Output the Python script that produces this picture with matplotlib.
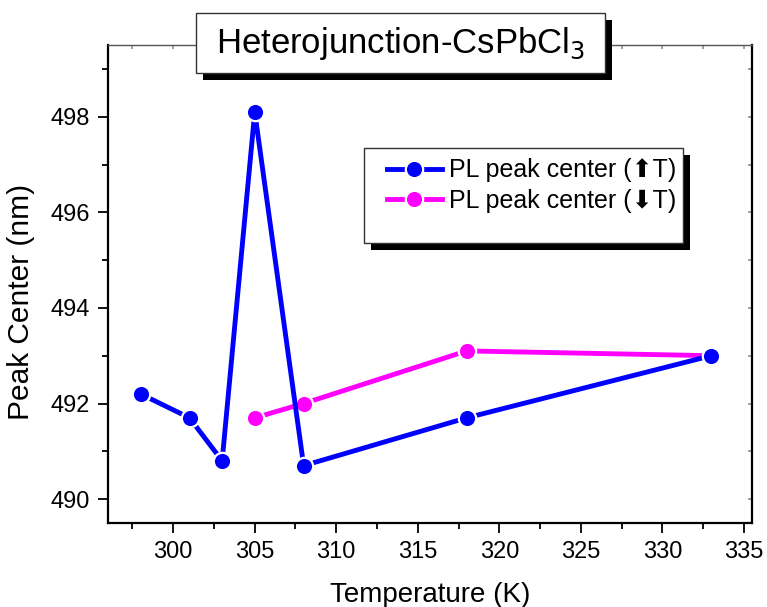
import matplotlib
matplotlib.use("Agg")
import matplotlib.pyplot as plt
from matplotlib.patches import Rectangle
from matplotlib.lines import Line2D
from matplotlib.ticker import MultipleLocator

plt.rcParams['font.family'] = ['Liberation Sans', 'DejaVu Sans']

# PL peak centre during heating
temp_up = [298, 301, 303, 305, 308, 318, 333]
peak_up = [492.2, 491.7, 490.8, 498.1, 490.7, 491.7, 493.0]

# PL peak centre during cooling
temp_down = [305, 308, 318, 333]
peak_down = [491.7, 492.0, 493.1, 493.0]

title_text = "Heterojunction-CsPbCl$_3$"
label_up = "PL peak center (\u2B06T)"
label_down = "PL peak center (\u2B07T)"

W, H = 767, 607
fig = plt.figure(figsize=(W / 100, H / 100), dpi=100)


def px_box(x0, y0, x1, y1):
    """Convert a pixel rectangle (top-left origin) to figure fraction."""
    return (x0 / W, 1 - y1 / H, (x1 - x0) / W, (y1 - y0) / H)


ax = fig.add_axes(px_box(108, 45, 752, 523))

style = dict(lw=3.5, marker='o', ms=12.5, mec='white', mew=1.6, solid_capstyle='butt')
ax.plot(temp_up, peak_up, color='#0000FF', zorder=4, **style)
ax.plot(temp_down, peak_down, color='#FF00FF', zorder=3, **style)

ax.set_xlim(296, 335.5)
ax.set_ylim(489.5, 499.5)
ax.xaxis.set_major_locator(MultipleLocator(5))
ax.xaxis.set_minor_locator(MultipleLocator(2.5))
ax.yaxis.set_major_locator(MultipleLocator(2))
ax.yaxis.set_minor_locator(MultipleLocator(1))

for s in ('left', 'bottom', 'right'):
    ax.spines[s].set_linewidth(1.6)
ax.spines['top'].set_linewidth(1.0)
ax.spines['top'].set_color('#555555')

ax.tick_params(which='major', direction='out', length=7, width=1.3, labelsize=17,
               pad=6, top=True, right=True)
ax.tick_params(which='minor', direction='out', length=4, width=1.3, top=True, right=True)
ax.tick_params(which='both', labeltop=False, labelright=False)
# top/right ticks point inward and are faint
for tick in ax.xaxis.get_major_ticks() + ax.xaxis.get_minor_ticks():
    tick.tick2line.set_marker(3)
    tick.tick2line.set_markeredgecolor('#999999')
    tick.tick2line.set_markersize(3)
for tick in ax.yaxis.get_major_ticks() + ax.yaxis.get_minor_ticks():
    tick.tick2line.set_marker(0)
    tick.tick2line.set_markeredgecolor('#999999')
    tick.tick2line.set_markersize(3)

ax.set_xlabel("Temperature (K)", fontsize=20, labelpad=14)
ax.set_ylabel("Peak Center (nm)", fontsize=21.5)
ax.yaxis.set_label_coords(-0.113, 0.462)

# Title box with a solid drop shadow
sh = 7
tb = px_box(196, 13, 605, 73)
fig.patches.append(Rectangle(px_box(196 + sh, 13 + sh, 605 + sh, 73 + sh)[:2], *tb[2:],
                             transform=fig.transFigure, facecolor='black',
                             edgecolor='none', zorder=10))
fig.patches.append(Rectangle(tb[:2], *tb[2:], transform=fig.transFigure, facecolor='white',
                             edgecolor='#333333', lw=1.0, zorder=11))
fig.text(400.5 / W, 1 - 43 / H, title_text, fontsize=25, ha='center', va='center', zorder=12)

# Legend box with a solid drop shadow
lb = px_box(364, 148, 683, 243)
fig.patches.append(Rectangle(px_box(364 + sh, 148 + sh, 683 + sh, 243 + sh)[:2], *lb[2:],
                             transform=fig.transFigure, facecolor='black',
                             edgecolor='none', zorder=10))
fig.patches.append(Rectangle(lb[:2], *lb[2:], transform=fig.transFigure, facecolor='white',
                             edgecolor='#333333', lw=1.0, zorder=11))
handles = [Line2D([], [], color='#0000FF', lw=3.5, marker='o', ms=12.5, mec='white', mew=1.6),
           Line2D([], [], color='#FF00FF', lw=3.5, marker='o', ms=12.5, mec='white', mew=1.6)]
leg = fig.legend(handles, [label_up, label_down], loc='upper left',
                 bbox_to_anchor=(369 / W, 1 - 141 / H), frameon=False, fontsize=18,
                 handlelength=2.2, handletextpad=0.3, labelspacing=0.25, borderpad=0.2)
leg.set_zorder(12)

fig.savefig("out.png", dpi=100)
